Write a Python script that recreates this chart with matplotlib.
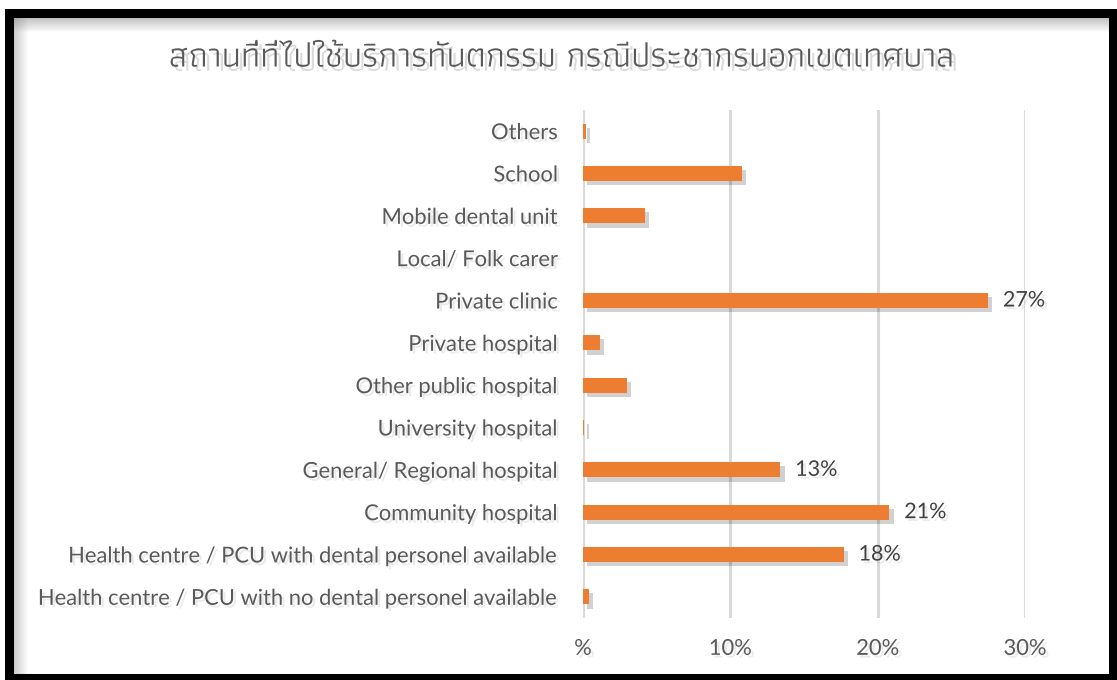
import matplotlib
matplotlib.use("Agg")
import matplotlib.pyplot as plt
import matplotlib.patheffects as pe
from matplotlib.patches import Rectangle
from matplotlib.lines import Line2D
from matplotlib.ticker import FuncFormatter

# ข้อมูล (จากล่างขึ้นบน)
categories = [
    "Health centre / PCU with no dental personel available",
    "Health centre / PCU with dental personel available",
    "Community hospital",
    "General/ Regional hospital",
    "University hospital",
    "Other public hospital",
    "Private hospital",
    "Private clinic",
    "Local/ Folk carer",
    "Mobile dental unit",
    "School",
    "Others",
]
values = [0.4, 17.7, 20.8, 13.4, 0.1, 3.0, 1.15, 27.5, 0.0, 4.2, 10.8, 0.2]
labels = ["", "18%", "21%", "13%", "", "", "", "27%", "", "", "", ""]
title = "สถานที่ที่ไปใช้บริการทันตกรรม กรณีประชากรนอกเขตเทศบาล"
xticks = [0, 10, 20, 30]

plt.rcParams["font.family"] = ["Lato", "DejaVu Sans"]

W, H = 1117, 680
fig = plt.figure(figsize=(W / 100, H / 100), dpi=100)
ax = fig.add_axes([583 / W, 62 / H, (1025 - 583) / W, 508 / H])

bar_shadow = [pe.SimplePatchShadow(offset=(3, -3), shadow_rgbFace="#000000", alpha=0.18), pe.Normal()]
txt_shadow = [pe.withSimplePatchShadow(offset=(2, -2), shadow_rgbFace="#bbbbbb", alpha=0.3)]

y = list(range(len(categories)))
bars = ax.barh(y, values, height=0.36, color="#ED7D31", zorder=3)
for b in bars:
    b.set_path_effects(bar_shadow)

for yi, v, lab in zip(y, values, labels):
    if lab:
        ax.text(v + 1.0, yi, lab, va="center", ha="left", fontsize=15.5,
                color="#404040", path_effects=txt_shadow)

ax.set_xlim(0, 30)
ax.set_ylim(-0.5, len(categories) - 0.5)
ax.set_xticks(xticks)
ax.xaxis.set_major_formatter(FuncFormatter(lambda v, p: "%" if v == 0 else f"{v:.0f}%"))
ax.set_yticks(y)
ax.set_yticklabels(categories)
ax.tick_params(axis="y", length=0, pad=18, labelsize=15.8, labelcolor="#595959")
ax.tick_params(axis="x", length=0, pad=15, labelsize=15.8, labelcolor="#595959")
for t in ax.get_xticklabels() + ax.get_yticklabels():
    t.set_path_effects(txt_shadow)

ax.grid(axis="x", color="#D9D9D9", lw=2.2, zorder=0)
for s in ax.spines.values():
    s.set_visible(False)

fig.text(561 / W, 1 - 58 / H, title, ha="center", va="center", fontsize=25,
         family=["Athiti", "DejaVu Sans"], color="#595959",
         path_effects=[pe.withSimplePatchShadow(offset=(3, -3), shadow_rgbFace="#999999", alpha=0.35)])

# เงาด้านในของกรอบ (ไล่เฉดบนและซ้าย)
for i in range(14):
    a = 0.45 * (1 - i / 14)
    fig.lines.append(Line2D([14 / W, 1108 / W], [1 - (18 + i) / H] * 2, transform=fig.transFigure,
                            color="#808080", alpha=a, lw=0.75))
    fig.lines.append(Line2D([(14 + i) / W] * 2, [5 / H, 1 - 18 / H], transform=fig.transFigure,
                            color="#808080", alpha=a * 0.8, lw=0.75))

# กรอบดำรอบภาพ
fig.patches.append(Rectangle((9.5 / W, 2.5 / H), (1113 - 9.5) / W, (667.5 - 2.5) / H,
                             transform=fig.transFigure, fill=False,
                             ec="black", lw=6.5, zorder=10))

fig.savefig("out.png", dpi=100, facecolor="white")
